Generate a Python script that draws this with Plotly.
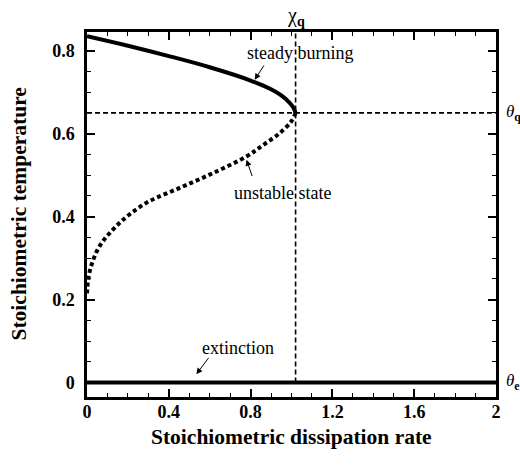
import plotly.graph_objects as go

# Data
steady_x = [0.0, 0.2, 0.4, 0.6, 0.8, 0.9, 0.95, 0.99, 1.01, 1.02]
steady_y = [0.835, 0.812, 0.787, 0.760, 0.728, 0.707, 0.692, 0.675, 0.662, 0.65]

unstable_x = [1.02, 1.0, 0.944, 0.86, 0.78, 0.617, 0.453, 0.29, 0.16, 0.061, 0.02, 0.005, 0.0]
unstable_y = [0.65, 0.63, 0.602, 0.572, 0.545, 0.505, 0.469, 0.433, 0.385, 0.328, 0.28, 0.245, 0.215]

ext_x = [0.0, 2.0]
ext_y = [0.0, 0.0]

chi_q = 1.02
theta_q = 0.65
theta_e = 0.0

x_ticks = [0, 0.4, 0.8, 1.2, 1.6, 2]
x_ticklabels = ["0", "0.4", "0.8", "1.2", "1.6", "2"]
y_ticks = [0, 0.2, 0.4, 0.6, 0.8]
y_ticklabels = ["0", "0.2", "0.4", "0.6", "0.8"]

SERIF = "Liberation Serif"

fig = go.Figure()

# reference dashed lines
fig.add_trace(go.Scatter(x=[chi_q, chi_q], y=[theta_e, 0.845], mode="lines",
                         line=dict(color="black", width=1.6, dash="5px,3px"),
                         showlegend=False, hoverinfo="skip"))
fig.add_trace(go.Scatter(x=[0, 2], y=[theta_q, theta_q], mode="lines",
                         line=dict(color="black", width=1.6, dash="5px,3px"),
                         showlegend=False, hoverinfo="skip"))

fig.add_trace(go.Scatter(x=steady_x, y=steady_y, mode="lines",
                         line=dict(color="black", width=4, shape="spline"),
                         showlegend=False))
fig.add_trace(go.Scatter(x=unstable_x, y=unstable_y, mode="lines",
                         line=dict(color="black", width=4, dash="4px,3px", shape="spline"),
                         showlegend=False))
fig.add_trace(go.Scatter(x=ext_x, y=ext_y, mode="lines",
                         line=dict(color="black", width=4),
                         showlegend=False))


def arrow(x, y, ax, ay):
    fig.add_annotation(x=x, y=y, ax=ax, ay=ay, xref="x", yref="y", axref="x", ayref="y",
                       showarrow=True, arrowhead=2, arrowsize=1.2, arrowwidth=1,
                       arrowcolor="black", text="")


def label(x, y, text, size=18, **kw):
    fig.add_annotation(x=x, y=y, text=text, showarrow=False,
                       font=dict(family=SERIF, size=size, color="black"), **kw)


arrow(0.82, 0.73, 0.87, 0.768)
label(1.04, 0.795, "steady burning", xref="x", yref="y")
arrow(0.78, 0.537, 0.81, 0.494)
label(0.955, 0.458, "unstable state", xref="x", yref="y")
arrow(0.535, 0.02, 0.60, 0.063)
label(0.74, 0.084, "extinction", xref="x", yref="y")

label(chi_q, 1.0, "χ<sub><b>q</b></sub>", size=20, xref="x", yref="paper",
      yanchor="bottom", yshift=1)
label(1.0, theta_q, "<i>θ</i><sub><b>q</b></sub>", size=17, xref="paper", yref="y",
      xanchor="left", xshift=8)
label(1.0, theta_e, "<i>θ</i><sub><b>e</b></sub>", size=17, xref="paper", yref="y",
      xanchor="left", xshift=8)

# axis titles
fig.add_annotation(x=0.5, y=0, xref="paper", yref="paper", yanchor="middle", yshift=-40,
                   text="<b>Stoichiometric dissipation rate</b>", showarrow=False,
                   font=dict(family=SERIF, size=21.5, color="black"))
fig.add_annotation(x=0, y=0.5, xref="paper", yref="paper", xanchor="center", xshift=-69,
                   textangle=-90,
                   text="<b>Stoichiometric temperature</b>", showarrow=False,
                   font=dict(family=SERIF, size=21.5, color="black"))

axis_common = dict(
    showline=True, linecolor="black", linewidth=2.5, mirror="allticks",
    ticks="inside", ticklen=8, tickwidth=2, tickcolor="black",
    showgrid=False, zeroline=False, automargin=False,
    tickfont=dict(family=SERIF, size=18, color="black", weight="bold"),
)

fig.update_layout(
    width=520, height=466,
    margin=dict(l=87, r=24, t=32, b=69),
    paper_bgcolor="white", plot_bgcolor="white",
    xaxis=dict(range=[0, 2], tickvals=x_ticks, ticktext=x_ticklabels,
               minor=dict(ticks="inside", ticklen=4, tickwidth=1, tickcolor="black", dtick=0.1),
               ticklabelstandoff=-3,
               **axis_common),
    yaxis=dict(range=[-0.035, 0.845], tickvals=y_ticks, ticktext=y_ticklabels,
               minor=dict(ticks="inside", ticklen=4, tickwidth=1, tickcolor="black", dtick=0.05),
               ticklabelstandoff=6,
               **axis_common),
)

# remove the default page margin so the figure fills the 520x466 window exactly
fig.write_html("out.html",
               config={"displayModeBar": False},
               post_script="document.body.style.margin='0';document.body.style.overflow='hidden';")
